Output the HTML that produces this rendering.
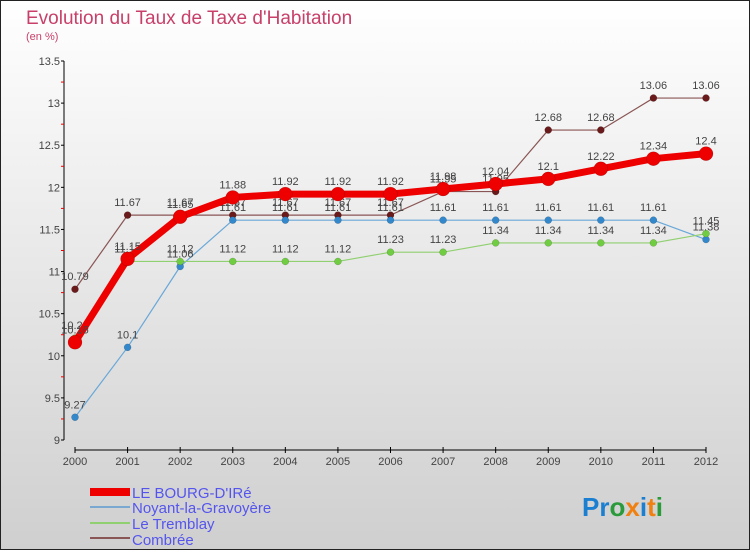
<!DOCTYPE html>
<html><head><meta charset="utf-8"><style>
body{margin:0;width:750px;height:550px;overflow:hidden;font-family:"Liberation Sans",sans-serif}
</style></head><body>
<svg id="c" width="750" height="550" xmlns="http://www.w3.org/2000/svg">
<defs><linearGradient id="bg" x1="0" y1="0" x2="0" y2="1"><stop offset="0" stop-color="#ffffff"/><stop offset="1" stop-color="#cfcfcf"/></linearGradient></defs>
<rect x="0.5" y="0.5" width="749" height="549" fill="url(#bg)" stroke="#222"/>
<text x="26" y="24" font-size="19" fill="#c8406a">Evolution du Taux de Taxe d'Habitation</text>
<text x="26" y="40" font-size="11" fill="#c8406a">(en %)</text>
<g id="axes"></g><g id="series"></g>
<g font-size="15" fill="#5555ee">
<rect x="90" y="488" width="40" height="8" fill="#e00"/>
<text x="132" y="498">LE BOURG-D'IRé</text>
<rect x="90" y="506" width="40" height="2" fill="#7aa8d0"/>
<text x="132" y="513">Noyant-la-Gravoyère</text>
<rect x="90" y="522" width="40" height="2" fill="#90d070"/>
<text x="132" y="529">Le Tremblay</text>
<rect x="90" y="537" width="40" height="2" fill="#8a5555"/>
<text x="132" y="545">Combrée</text>
</g>
<text x="582" y="516" font-size="26" font-weight="bold"><tspan fill="#1a7fd0">Pr</tspan><tspan fill="#2a9a3a">o</tspan><tspan fill="#f08010">x</tspan><tspan fill="#1a7fd0">i</tspan><tspan fill="#f08010">t</tspan><tspan fill="#2a9a3a">i</tspan></text>
</svg>
<script>
const years=[2000,2001,2002,2003,2004,2005,2006,2007,2008,2009,2010,2011,2012];
const yTicks=[9,9.5,10,10.5,11,11.5,12,12.5,13,13.5];
const bourg=[10.16,11.15,11.65,11.88,11.92,11.92,11.92,11.98,12.04,12.1,12.22,12.34,12.4];
const noyant=[9.27,10.1,11.06,11.61,11.61,11.61,11.61,11.61,11.61,11.61,11.61,11.61,11.38];
const tremblay=[10.21,11.12,11.12,11.12,11.12,11.12,11.23,11.23,11.34,11.34,11.34,11.34,11.45];
const combree=[10.79,11.67,11.67,11.67,11.67,11.67,11.67,11.95,11.95,12.68,12.68,13.06,13.06];
const NS="http://www.w3.org/2000/svg";
const xs=i=>75+i*(706-75)/(years.length-1);
const ys=v=>440-(v-9)*(440-61)/4.5;
function mk(t,a,p){const e=document.createElementNS(NS,t);for(const k in a)e.setAttribute(k,a[k]);p.appendChild(e);return e;}
const ax=document.getElementById('axes');
let l=mk('line',{x1:64,y1:61,x2:64,y2:440,stroke:'#000'},ax);


yTicks.forEach((v,i)=>{
 const t=mk('text',{x:60,y:ys(v)+4,'font-size':11,'text-anchor':'end',fill:'#444'},ax);t.textContent=v;
 
 
 mk('line',{x1:61,y1:ys(v),x2:64,y2:ys(v),stroke:'#000'},ax);
 if(i<yTicks.length-1)mk('line',{x1:61,y1:ys(v+0.25),x2:64,y2:ys(v+0.25),stroke:'#e00'},ax);
});
l=mk('line',{x1:75,y1:450,x2:706,y2:450,stroke:'#000'},ax);


years.forEach((y,i)=>{
 mk('line',{x1:xs(i),y1:447,x2:xs(i),y2:453,stroke:'#000'},ax);
 const t=mk('text',{x:xs(i),y:465,'font-size':11,'text-anchor':'middle',fill:'#444'},ax);t.textContent=y;
 
 
});
const sg=document.getElementById('series');
function draw(name,data,color,w,r,mc){
 const g=mk('g',{},sg);
 
 
 mk('polyline',{points:data.map((v,i)=>xs(i)+','+ys(v)).join(' '),fill:'none',stroke:color,'stroke-width':w,'stroke-linejoin':'round'},g);
 data.forEach((v,i)=>{
  const c=mk('circle',{cx:xs(i),cy:ys(v),r:r,fill:mc,stroke:'rgba(0,0,0,0.25)','stroke-width':0.5},g);
  
  
  const t=mk('text',{x:xs(i),y:ys(v)-9,'font-size':11,'text-anchor':'middle',fill:'#444'},g);t.textContent=v;
  
  
 });
}
draw('combree',combree,'#8a5555',1.2,3.5,'#6a1a1a');
draw('noyant',noyant,'#6aa8d8',1.2,3.5,'#3388cc');
draw('tremblay',tremblay,'#90d070',1.2,3.5,'#70cc40');
draw('bourg',bourg,'#ee0000',7,7,'#ee0000');
</script>
</body></html>
